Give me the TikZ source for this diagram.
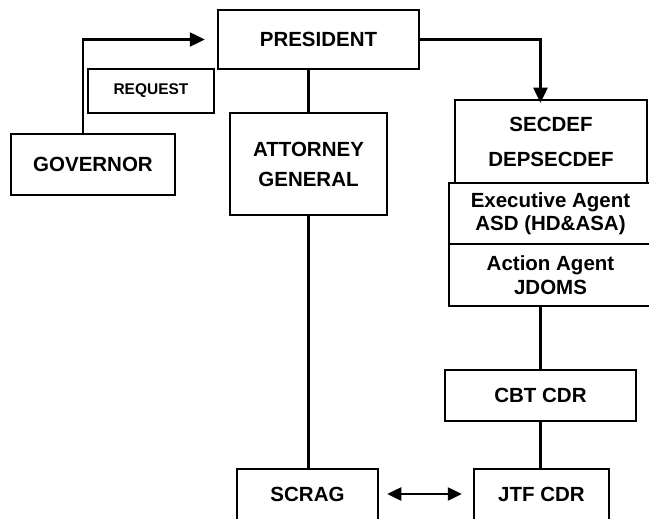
\documentclass[tikz,border=0pt]{standalone}
\usepackage{fontspec}
\setmainfont{Liberation Sans}
\usetikzlibrary{arrows.meta}
\begin{document}
\begin{tikzpicture}[x=1pt,y=-1pt,
  lw/.style={line width=2.5pt},
  box/.style={draw, lw, rectangle, inner sep=0pt, align=center, font=\bfseries\fontsize{20.5}{30}\selectfont},
  txt/.style={inner sep=0pt, align=center, font=\bfseries\fontsize{20.5}{30}\selectfont},
  conn/.style={lw},
  arr/.style={lw, -{Triangle[length=15pt,width=14pt]}},
  dbl/.style={lw, {Triangle[length=14pt,width=13pt]}-{Triangle[length=14pt,width=13pt]}}
]
\useasboundingbox (0,0) rectangle (649,519);
\fill[white] (0,0) rectangle (649,519);
\clip (0,0) rectangle (649,519);

\node[box, minimum width=201, minimum height=59] (pres) at (318.5,39.5) {PRESIDENT};
\node[box, minimum width=126, minimum height=44, font=\bfseries\fontsize{15.5}{18}\selectfont] (req) at (151,91) {REQUEST};
\node[box, minimum width=164, minimum height=61] (gov) at (93,164.5) {GOVERNOR};
\node[box, minimum width=157, minimum height=102] (ag) at (308.5,164) {ATTORNEY\\GENERAL};
\node[box, minimum width=192, minimum height=83, font=\bfseries\fontsize{20.5}{35}\selectfont] (sec) at (551,141.5) {SECDEF\\DEPSECDEF};
\node[box, minimum width=203, minimum height=61, font=\bfseries\fontsize{20.5}{22.5}\selectfont] (exec) at (550.5,213.5) {Executive Agent\\ASD (HD\&ASA)};
\node[box, minimum width=203, minimum height=62, font=\bfseries\fontsize{20.5}{24}\selectfont] (act) at (550.5,275) {Action Agent\\JDOMS};
\node[box, minimum width=191, minimum height=51] (cbt) at (540.5,395.5) {CBT CDR};
\node[box, minimum width=141, minimum height=62] (scrag) at (307.5,500) {};
\node[box, minimum width=135, minimum height=62] (jtf) at (541.5,500) {};
\node[txt] (scragT) at (307.5,494.5) {SCRAG};
\node[txt] (jtfT) at (541.5,494.5) {JTF CDR};

\draw[arr] ([xshift=-10pt]gov.north) |- ([xshift=-12pt]pres.west);
\draw[arr] (pres.east) -| ([yshift=-4pt]cbt.north |- sec.north);
\draw[conn] (ag.north |- pres.south) -- (ag.north);
\draw[conn] (ag.south) -- (ag.south |- scrag.north);
\draw[conn] (cbt.north |- act.south) -- (cbt.north);
\draw[conn] (cbt.south) -- (cbt.south |- jtf.north);
\draw[dbl] ([xshift=8pt,yshift=6pt]scrag.east) -- ([xshift=-11pt,yshift=6pt]jtf.west);
\end{tikzpicture}
\end{document}
